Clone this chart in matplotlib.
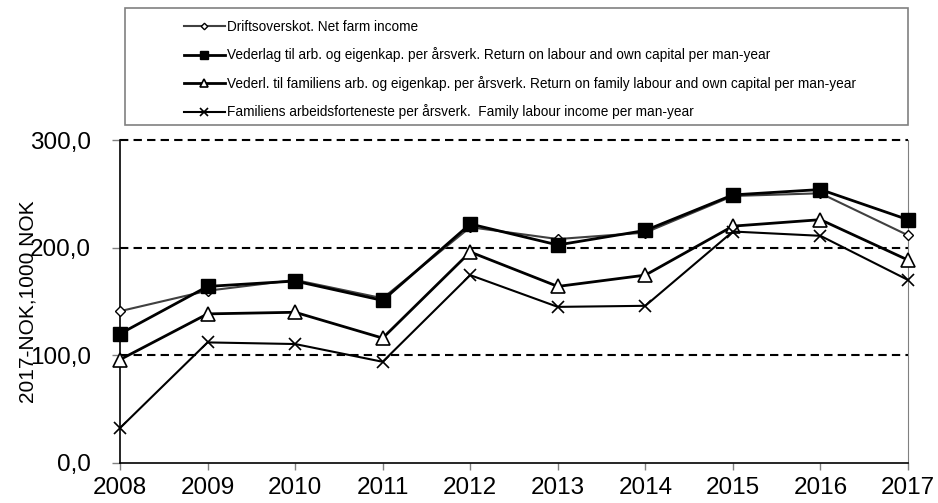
import matplotlib.pyplot as plt
from matplotlib.patches import Rectangle
from matplotlib.ticker import FuncFormatter

plt.rcParams['font.family'] = ['Liberation Sans', 'DejaVu Sans']

years = [2008, 2009, 2010, 2011, 2012, 2013, 2014, 2015, 2016, 2017]
net_farm_income = [141, 160, 170, 153, 219, 208, 214, 248, 250.5, 211.5]
return_labour_capital = [120, 164, 169, 151, 222, 202.5, 216, 249, 254, 226]
return_family_labour = [96, 138.5, 140, 116, 196, 164, 174.5, 220, 226, 188.5]
family_labour_income = [32.5, 112, 110.5, 94, 174.5, 145, 146, 215, 211, 170]

labels = [
    'Driftsoverskot. Net farm income',
    'Vederlag til arb. og eigenkap. per årsverk. Return on labour and own capital per man-year',
    'Vederl. til familiens arb. og eigenkap. per årsverk. Return on family labour and own capital per man-year',
    'Familiens arbeidsforteneste per årsverk.  Family labour income per man-year',
]

W, H = 938, 503
fig = plt.figure(figsize=(W / 100, H / 100), dpi=100)
ax = fig.add_axes([120 / W, 1 - 463 / H, 788 / W, 323 / H])

l1, = ax.plot(years, net_farm_income, color='#404040', lw=1.5, marker='D', ms=5.5,
              mfc='white', mec='black', mew=1.0, clip_on=False, zorder=3)
l2, = ax.plot(years, return_labour_capital, color='black', lw=2, marker='s', ms=10.5,
              mfc='black', mec='black', clip_on=False, zorder=4)
l3, = ax.plot(years, return_family_labour, color='black', lw=2, marker='^', ms=10,
              mfc='white', mec='black', mew=1.2, clip_on=False, zorder=3)
l4, = ax.plot(years, family_labour_income, color='black', lw=1.5, marker='x', ms=8.5,
              mec='black', mew=1.2, clip_on=False, zorder=3)

ax.set_xlim(2008, 2017)
ax.set_ylim(0, 300)
ax.set_xticks(years)
ax.set_yticks([0, 100, 200, 300])
ax.yaxis.set_major_formatter(FuncFormatter(lambda v, p: f'{v:.1f}'.replace('.', ',')))
for y in [100, 200, 300]:
    ax.axhline(y, color='black', lw=1.5, ls=(0, (4, 2.5)), zorder=1, clip_on=False)

ax.spines['top'].set_visible(False)
ax.spines['right'].set_color('#808080')
ax.spines['left'].set_color('black')
ax.spines['bottom'].set_color('black')
ax.spines['left'].set_linewidth(1.2)
ax.spines['bottom'].set_linewidth(1.2)
ax.tick_params(axis='both', labelsize=17.5, color='#808080', width=1)
ax.tick_params(axis='y', length=5.8, pad=15)
ax.tick_params(axis='x', length=5, pad=5)

ax.set_ylabel('2017-NOK,1000 NOK', fontsize=15)
ax.yaxis.set_label_coords(-0.105, 0.5)

# legend box spans the full axes width, entries sit inside it
fig.patches.append(Rectangle((125 / W, 1 - 125 / H), 783 / W, 117 / H,
                             transform=fig.transFigure, fill=False,
                             edgecolor='#808080', lw=1.2))
leg = fig.legend([l1, l2, l3, l4], labels, loc='upper left',
                 bbox_to_anchor=(184 / W, 1 - 20 / H), fontsize=9.8,
                 frameon=False, borderpad=0, labelspacing=0.99,
                 handlelength=3.0, handletextpad=0.15, borderaxespad=0,
                 markerscale=0.6)

fig.savefig('out.png', dpi=100)
